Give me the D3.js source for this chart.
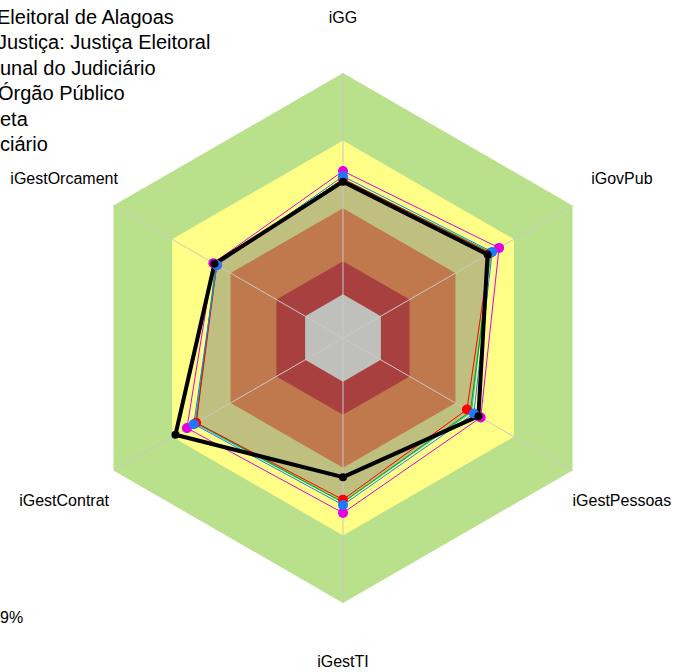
<!DOCTYPE html>
<html>
<head>
<meta charset="utf-8">
<script src="https://cdn.jsdelivr.net/npm/d3@7"></script>
<style>
  html, body { margin: 0; padding: 0; background: #fff; }
  svg { display: block; font-family: "Liberation Sans", Arial, sans-serif; }
</style>
</head>
<body>
<script>
// axes, clockwise from the top
const axes = ["iGG", "iGovPub", "iGestPessoas", "iGestTI", "iGestContrat", "iGestOrcament"];

// background bands (upper bound, in %) and their colours, outermost first
const bandMax = [100, 74.5, 49, 29, 16.5];
const bandColours = ["#b9e08a", "#ffff88", "#ff7222", "#d20008", "#ffffff"];

// legend text as it shows (cut at the left edge of the picture)
const legendText = [
    "Eleitoral de Alagoas",
    "Justiça: Justiça Eleitoral",
    "unal do Judiciário",
    "Órgão Público",
    "eta",
    "ciário"
];

// series values in %, one array per series
const sRed     = [60, 64, 54, 61, 64, 55];
const sBlue    = [61, 65, 57, 63, 65, 55];
const sCyan    = [60, 64, 56, 62, 64.5, 55];
const sGreen   = [60, 64.5, 55.5, 62, 64, 55.5];
const sMagenta = [63, 68, 60, 66, 68, 56.5];
const sBlack   = [59, 63, 59, 52.5, 73, 56];

const series = [
    {values: sCyan, colour: "#00c8c8", width: 1, dot: false, fill: true},
    {values: sGreen, colour: "#00b000", width: 1, dot: false},
    {values: sRed, colour: "#ff0000", width: 1, dot: true},
    {values: sMagenta, colour: "#e000e0", width: 1, dot: true},
    {values: sBlue, colour: "#1e78ff", width: 1, dot: true},
    {values: sBlack, colour: "#000000", width: 4, dot: true, dotR: 4}
];

const W = 677, H = 672;
const cx = 343, cy = 338, R = 265;

const svg = d3.select("body").append("svg")
    .attr("width", W)
    .attr("height", H);

const r = d3.scaleLinear().domain([0, 100]).range([0, R]);
const angle = d3.scalePoint().domain(axes).range([0, 2 * Math.PI * 5 / 6]);

const pt = (ax, v) => {
    const a = angle(ax);
    return [cx + r(v) * Math.sin(a), cy - r(v) * Math.cos(a)];
};

const g = svg.append("g");

// bands
g.selectAll("polygon.band")
    .data(bandMax)
    .join("polygon")
    .attr("class", "band")
    .attr("points", d => axes.map(a => pt(a, d).join(",")).join(" "))
    .attr("fill", (d, i) => bandColours[i]);

// filled area of one series (translucent grey)
series.filter(s => s.fill).forEach(s => {
    g.append("polygon")
        .attr("points", axes.map((a, i) => pt(a, s.values[i]).join(",")).join(" "))
        .attr("fill", "#808078")
        .attr("fill-opacity", 0.5);
});

// spokes
g.selectAll("line.spoke")
    .data(axes)
    .join("line")
    .attr("class", "spoke")
    .attr("x1", cx).attr("y1", cy)
    .attr("x2", d => pt(d, 100)[0])
    .attr("y2", d => pt(d, 100)[1])
    .attr("stroke", "#c8c8c8")
    .attr("stroke-width", 1);

// series lines
const line = d3.line().curve(d3.curveLinearClosed);
series.forEach(s => {
    g.append("path")
        .attr("d", line(axes.map((a, i) => pt(a, s.values[i]))))
        .attr("fill", "none")
        .attr("stroke", s.colour)
        .attr("stroke-width", s.width)
        .attr("stroke-linejoin", "round");
});
series.filter(s => s.dot).forEach(s => {
    g.selectAll(null)
        .data(axes)
        .join("circle")
        .attr("cx", (a, i) => pt(a, s.values[i])[0])
        .attr("cy", (a, i) => pt(a, s.values[i])[1])
        .attr("r", s.dotR || 5)
        .attr("fill", s.colour);
});

// axis labels
svg.selectAll("text.axis")
    .data(axes)
    .join("text")
    .attr("class", "axis")
    .attr("x", d => cx + 322 * Math.sin(angle(d)))
    .attr("y", d => cy - 322 * Math.cos(angle(d)) + 7)
    .attr("text-anchor", "middle")
    .attr("font-size", 16)
    .attr("fill", "#000")
    .text(d => d);

// legend (runs off the left edge)
const legendX = [-3, -3, 0, -2, 0, 0];
svg.selectAll("text.legend")
    .data(legendText)
    .join("text")
    .attr("class", "legend")
    .attr("x", (d, i) => legendX[i])
    .attr("y", (d, i) => 24 + i * 25.4)
    .attr("font-size", 20)
    .attr("fill", "#000")
    .text(d => d);

svg.append("text")
    .attr("x", 0)
    .attr("y", 623)
    .attr("font-size", 16)
    .text("9%");
</script>
</body>
</html>
